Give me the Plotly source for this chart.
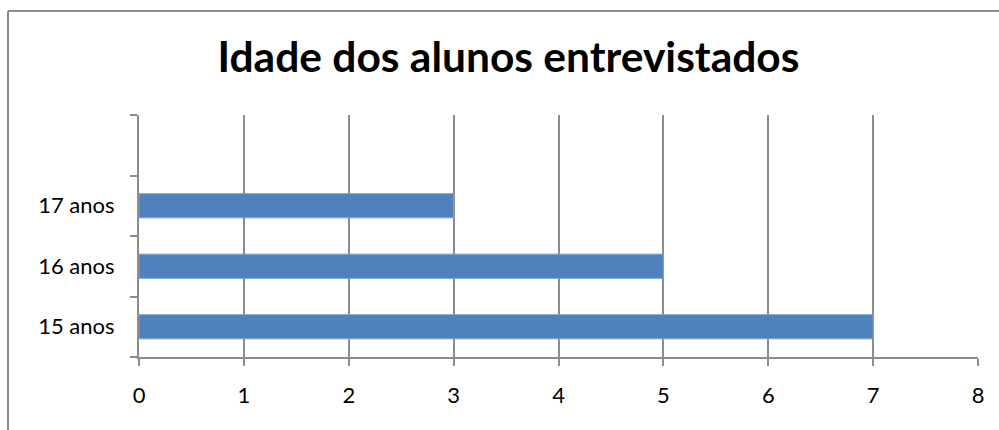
import plotly.graph_objects as go

categories = ["15 anos", "16 anos", "17 anos", " "]
values = [7, 5, 3, None]
title = "Idade dos alunos entrevistados"

W, H = 999, 430
L, R, T, B = 139, 21, 115, 73
pw, ph = W - L - R, H - T - B

fig = go.Figure(go.Bar(
    x=values, y=categories, orientation="h",
    marker=dict(color="#4F81BD", line=dict(color="#7FA3D0", width=1)),
))

def px2paper_x(px):
    return (px - L) / pw

def px2paper_y(py):
    return 1 - (py - T) / ph

border = "#8C8C8C"
fig.update_layout(
    width=W, height=H,
    margin=dict(l=L, r=R, t=T, b=B),
    paper_bgcolor="white", plot_bgcolor="white",
    bargap=0.6,
    showlegend=False,
    title=dict(text="<b>" + title + "</b>", x=0.509, xanchor="center",
               y=1 - 57 / H, yanchor="middle",
               font=dict(family="Lato", size=42.5, color="black")),
    font=dict(family="Lato", size=22, color="black"),
    xaxis=dict(range=[0, 8], dtick=1, tick0=0,
               showgrid=True, gridcolor="#8C8C8C", gridwidth=1.5,
               showline=True, linecolor="#8C8C8C", linewidth=2,
               ticks="outside", ticklen=7, tickcolor="#8C8C8C", tickwidth=1.5,
               ticklabelstandoff=11, zeroline=False, fixedrange=True),
    yaxis=dict(type="category", categoryorder="array", categoryarray=categories,
               range=[-0.5, 3.5], tickson="boundaries",
               showgrid=False,
               showline=True, linecolor="#8C8C8C", linewidth=2,
               ticks="outside", ticklen=7, tickcolor="#8C8C8C", tickwidth=1.5,
               ticklabelstandoff=18, fixedrange=True),
    shapes=[
        dict(type="line", xref="paper", yref="paper",
             x0=px2paper_x(8), x1=px2paper_x(8), y0=px2paper_y(11), y1=px2paper_y(440),
             line=dict(color=border, width=2)),
        dict(type="line", xref="paper", yref="paper",
             x0=px2paper_x(8), x1=px2paper_x(1010), y0=px2paper_y(11), y1=px2paper_y(11),
             line=dict(color=border, width=2)),
    ],
)

fig.write_html("out.html")
